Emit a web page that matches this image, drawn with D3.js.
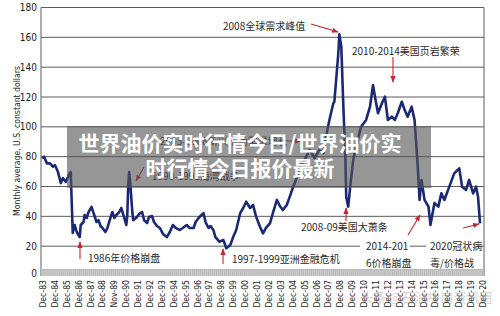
<!DOCTYPE html>
<html>
<head>
<meta charset="utf-8">
<script src="https://cdn.jsdelivr.net/npm/d3@7"></script>
<style>
  body { margin: 0; background: #fff; }
  svg { display: block; }
  .num { font-family: "Liberation Sans Narrow", "DejaVu Sans Condensed", sans-serif; font-stretch: condensed; fill: #1c1c1c; }
  .note { font-family: "Noto Sans CJK SC", sans-serif; font-size: 10px; fill: #2a2a2a; }
</style>
</head>
<body>
<svg id="chart" width="500" height="316"></svg>
<script>
// monthly average crude price, constant US dollars
var months = ["1983-11","1984-01","1984-04","1984-07","1984-10","1984-12","1985-03","1985-06","1985-08","1985-11",
  "1986-02","1986-04","1986-06","1986-08","1986-10","1987-01","1987-02","1987-05","1987-06","1987-08",
  "1987-10","1988-01","1988-03","1988-04","1988-06","1988-08","1988-10","1988-12","1989-03","1989-05",
  "1989-08","1989-10","1989-12","1990-02","1990-05","1990-07","1990-10","1990-12","1991-01","1991-02",
  "1991-03","1991-04","1991-06","1991-07","1991-10","1992-01","1992-04","1992-06","1992-09","1992-11",
  "1993-02","1993-04","1993-07","1993-10","1994-01","1994-05","1994-08","1994-11","1995-02","1995-06",
  "1995-09","1996-01","1996-04","1996-08","1996-10","1997-01","1997-03","1997-06","1997-08","1997-11",
  "1998-01","1998-04","1998-06","1998-10","1999-02","1999-05","1999-09","1999-12","2000-03","2000-07",
  "2000-10","2001-01","2001-05","2001-08","2001-11","2002-03","2002-06","2002-09","2003-01","2003-04",
  "2003-08","2003-11","2004-02","2004-06","2004-09","2004-12","2005-04","2005-07","2005-12","2006-05",
  "2006-10","2007-03","2007-07","2007-10","2008-01","2008-05","2008-06","2008-10","2008-11","2009-01",
  "2009-03","2009-05","2009-06","2009-08","2009-10","2010-01","2010-04","2010-09","2011-02","2011-06",
  "2011-09","2011-11","2012-02","2012-06","2012-09","2012-12","2013-04","2013-07","2013-10","2014-02",
  "2014-05","2014-08","2014-12","2015-03","2015-06","2015-08","2015-10","2016-01","2016-05","2016-07",
  "2016-11","2017-03","2017-06","2017-09","2018-02","2018-07","2018-12","2019-03","2019-07","2019-10",
  "2020-02","2020-05","2020-07","2020-09"];
var prices = [78.9,80.0,75.5,75.5,73.3,74.4,70.0,62.3,65.7,63.0,
  67.7,69.7,28.8,34.2,29.5,26.1,34.2,36.2,40.9,38.9,
  42.9,46.3,42.2,40.2,36.2,37.5,33.5,32.2,29.5,32.2,
  38.9,42.9,38.9,40.9,42.9,45.6,38.9,34.2,40.2,61.0,
  69.7,63.0,44.2,37.5,38.9,41.6,42.9,37.5,35.5,39.6,
  40.2,36.2,33.5,32.2,28.2,26.1,29.5,34.2,32.2,30.8,
  32.2,34.2,32.2,32.2,36.2,38.9,40.2,42.2,36.2,32.2,
  33.5,30.8,26.1,23.0,24.1,18.6,20.8,26.3,30.8,42.2,
  45.6,49.8,45.6,47.6,39.8,33.0,28.6,32.2,35.3,42.2,
  51.0,46.9,44.2,47.6,53.2,59.0,65.7,73.3,77.8,84.5,
  79.1,84.5,82.3,94.5,104.6,115.8,116.8,149.3,162.0,153.7,
  115.8,82.3,53.2,46.5,59.9,77.8,86.7,100.1,104.6,113.5,
  128.0,120.2,109.1,115.8,120.2,104.6,106.8,104.6,109.1,116.8,
  111.3,106.8,113.5,104.6,75.5,51.0,64.4,51.0,46.5,34.2,
  48.9,46.5,55.4,51.0,59.9,68.8,72.2,59.9,57.7,64.4,
  55.4,59.9,53.2,35.3];
var yTicks = [0, 20, 40, 60, 80, 100, 120, 140, 160, 180];
var xTickLabels = ["Dec-83","Dec-84","Dec-85","Dec-86","Dec-87","Dec-88","Nov-89","Dec-90","Dec-91","Dec-92",
  "Dec-93","Dec-94","Dec-95","Dec-96","Dec-97","Dec-98","Dec-99","Dec-00","Dec-01","Dec-02",
  "Dec-03","Dec-04","Dec-05","Dec-06","Dec-07","Dec-08","Dec-09","Dec-10","Dec-11","Dec-12",
  "Dec-13","Dec-14","Dec-15","Dec-16","Dec-17","Dec-18","Dec-19","Dec-20"];

var parseMonth = d3.timeParse("%Y-%m");
var data = months.map(function(m, i) { return {date: parseMonth(m), value: prices[i]}; });
var tickDates = xTickLabels.map(function(l, i) { return new Date(1983 + i, 11, 1); });

var svg = d3.select("#chart");
var plotLeft = 41, plotRight = 484;

var x = d3.scaleTime()
  .domain([new Date(1983, 11, 1), new Date(2020, 11, 1)])
  .range([43, 483]);
var y = d3.scaleLinear()
  .domain([0, 180])
  .range([276, 7.5]);

// gridlines
svg.append("g")
  .selectAll("line")
  .data(yTicks.filter(function(d) { return d > 0; }))
  .enter().append("line")
    .attr("x1", plotLeft).attr("x2", plotRight)
    .attr("y1", function(d) { return y(d); })
    .attr("y2", function(d) { return y(d); })
    .attr("stroke", "#5c5c5c")
    .attr("stroke-width", 1);

// frame
svg.append("line").attr("x1", plotLeft).attr("x2", plotLeft).attr("y1", y(180)).attr("y2", y(0))
  .attr("stroke", "#5c5c5c");
svg.append("line").attr("x1", plotRight).attr("x2", plotRight).attr("y1", y(180)).attr("y2", y(0))
  .attr("stroke", "#5c5c5c");

// gray month band along the bottom
svg.append("rect")
  .attr("x", plotLeft).attr("y", y(0) - 7)
  .attr("width", plotRight - plotLeft).attr("height", 7)
  .attr("fill", "#b9b9b9");
svg.append("g")
  .selectAll("line")
  .data(d3.timeMonth.range(new Date(1983, 11, 1), new Date(2020, 11, 1), 2))
  .enter().append("line")
    .attr("x1", function(d) { return x(d); })
    .attr("x2", function(d) { return x(d); })
    .attr("y1", y(0) - 6).attr("y2", y(0))
    .attr("stroke", "#dcdcdc")
    .attr("stroke-width", 0.6);

// y axis labels
svg.append("g")
  .selectAll("text")
  .data(yTicks)
  .enter().append("text")
    .attr("class", "num")
    .attr("x", 37)
    .attr("y", function(d) { return d === 0 ? y(d) - 3 : y(d); })
    .attr("dy", "0.35em")
    .attr("text-anchor", "end")
    .style("font-size", "10px")
    .text(function(d) { return d; });

svg.append("text")
  .attr("class", "num")
  .attr("transform", "translate(20,141) rotate(-90)")
  .attr("text-anchor", "middle")
  .style("font-size", "8.6px")
  .text("Monthly average, U.S. constant dollars");

// x axis labels
svg.append("g")
  .selectAll("text")
  .data(tickDates)
  .enter().append("text")
    .attr("class", "num")
    .attr("transform", function(d) { return "translate(" + (x(d) + 3) + ",280) rotate(-90)"; })
    .attr("text-anchor", "end")
    .style("font-size", "8.6px")
    .text(function(d, i) { return xTickLabels[i]; });

// price line
var line = d3.line()
  .x(function(d) { return x(d.date); })
  .y(function(d) { return y(d.value); })
  .curve(d3.curveLinear);
svg.append("path")
  .datum(data)
  .attr("fill", "none")
  .attr("stroke", "#1b2975")
  .attr("stroke-width", 2.6)
  .attr("stroke-linejoin", "round")
  .attr("d", line);

// annotations
svg.append("defs").append("marker")
  .attr("id", "head")
  .attr("viewBox", "0 0 10 10")
  .attr("refX", 9).attr("refY", 5)
  .attr("markerWidth", 6).attr("markerHeight", 6)
  .attr("orient", "auto")
  .append("path").attr("d", "M0,1 L10,5 L0,9 z").attr("fill", "#c9252d");

function arrow(x1, y1, x2, y2) {
  svg.append("line")
    .attr("x1", x1).attr("y1", y1).attr("x2", x2).attr("y2", y2)
    .attr("stroke", "#c9252d").attr("stroke-width", 1.1)
    .attr("marker-end", "url(#head)");
}
function note(tx, ty, str) {
  svg.append("text").attr("class", "note").attr("x", tx).attr("y", ty).text(str);
}

// white boxes under the two-line notes
svg.append("rect").attr("x", 360).attr("y", 238).attr("width", 50).attr("height", 30).attr("fill", "#fff");
svg.append("rect").attr("x", 426).attr("y", 238).attr("width", 51).attr("height", 30).attr("fill", "#fff");

note(223, 30, "2008全球需求峰值");
arrow(311, 24, 338, 32);
note(352, 55, "2010-2014美国页岩繁荣");
arrow(393, 57, 393, 82);
note(160, 145, "2003-2008新兴市场需求增长");
arrow(287, 141, 301, 141);
note(152, 180, "1990-1991海湾战争");
arrow(144, 167, 136, 181);
note(88, 262, "1986年价格崩盘");
arrow(80, 259, 80, 242);
note(232, 263, "1997-1999亚洲金融危机");
arrow(223, 264, 223, 249);
note(301, 231, "2008-09美国大萧条");
arrow(346, 221, 346, 208);
note(366, 250, "2014-201");
note(366, 267, "6价格崩盘");
arrow(408, 235, 420, 215);
note(430, 250, "2020冠状病");
note(430, 267, "毒/价格战");
arrow(463, 228, 479, 224);

// title banner over the chart
svg.append("rect")
  .attr("x", 67).attr("y", 126)
  .attr("width", 364).attr("height", 62)
  .attr("fill", "rgba(85,85,85,0.62)");
svg.append("text")
  .attr("x", 240).attr("y", 151)
  .attr("text-anchor", "middle")
  .style("font-family", "'Noto Sans CJK SC', sans-serif")
  .style("font-weight", "bold")
  .style("font-size", "21px")
  .attr("fill", "#fff")
  .text("世界油价实时行情今日/世界油价实");
svg.append("text")
  .attr("x", 240).attr("y", 176)
  .attr("text-anchor", "middle")
  .style("font-family", "'Noto Sans CJK SC', sans-serif")
  .style("font-weight", "bold")
  .style("font-size", "21px")
  .attr("fill", "#fff")
  .text("时行情今日报价最新");

// faint watermark
svg.append("text")
  .attr("x", 360).attr("y", 302)
  .style("font-family", "'Noto Sans CJK SC', sans-serif")
  .style("font-size", "13px")
  .attr("fill", "rgba(150,150,150,0.45)")
  .text("头条 @石油中商资讯圈");
</script>
</body>
</html>
